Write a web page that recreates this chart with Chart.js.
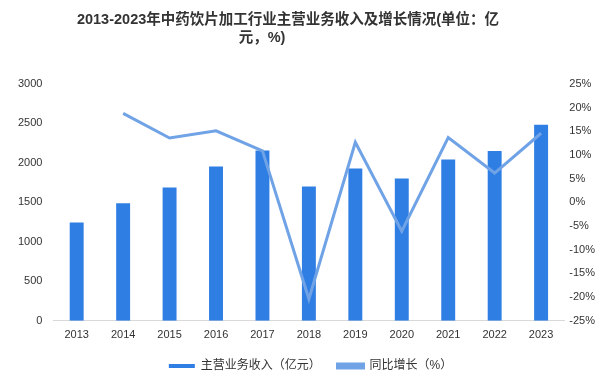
<!DOCTYPE html>
<html>
<head>
<meta charset="utf-8">
<script src="https://cdn.jsdelivr.net/npm/chart.js@4/dist/chart.umd.min.js"></script>
<style>
  html, body { margin: 0; padding: 0; background: #fff; }
  #wrap { width: 601px; height: 387px; }
</style>
</head>
<body>
<div id="wrap"><canvas id="myChart"></canvas></div>
<script>
// years on the x axis
const years = ["2013", "2014", "2015", "2016", "2017", "2018", "2019", "2020", "2021", "2022", "2023"];
// main business revenue (亿元)
const revenue = [1245, 1488, 1690, 1955, 2156, 1700, 1930, 1803, 2043, 2150, 2483];
// year-on-year growth (%)
const growth = [null, 18.8, 13.6, 15.1, 10.9, -20.4, 12.7, -6.1, 13.7, 6.2, 14.6];
// title lines
const titleLines = ["2013-2023年中药饮片加工行业主营业务收入及增长情况(单位：亿", "元，%)"];

const barColor = "#2f7ee3";
const lineColor = "#70a3e6";
const fontFamily = "'Liberation Sans', 'Noto Sans CJK SC', sans-serif";

// title drawn by hand, the original wraps it off-centre
const titlePlugin = {
  id: "titleLines",
  afterLayout(chart) {
    // legend sits a little right of centre in the original
    chart.legend.left += 7;
    chart.legend.right += 7;
  },
  afterDraw(chart) {
    const c = chart.ctx;
    c.save();
    c.fillStyle = "#333";
    c.font = "bold 14.5px " + fontFamily;
    c.textAlign = "center";
    c.textBaseline = "middle";
    c.fillText(titleLines[0], 288, 20);
    c.fillText(titleLines[1], 262, 38);
    c.restore();
  },
};

const ctx = document.getElementById("myChart").getContext("2d");
new Chart(ctx, {
  data: {
    labels: years,
    datasets: [
      {
        type: "line",
        label: "同比增长（%）",
        data: growth,
        yAxisID: "y1",
        borderColor: lineColor,
        backgroundColor: lineColor,
        borderWidth: 3,
        pointRadius: 0,
        tension: 0,
        order: 0,
      },
      {
        type: "bar",
        label: "主营业务收入（亿元）  ", // trailing spaces widen the legend gap
        data: revenue,
        yAxisID: "y",
        backgroundColor: barColor,
        categoryPercentage: 1,
        barPercentage: 0.3,
        order: 1,
      },
    ],
  },
  options: {
    responsive: true,
    maintainAspectRatio: false,
    animation: false,
    layout: { padding: { left: 7, right: 1, top: 84, bottom: 5 } },
    plugins: {
      title: { display: false },
      legend: {
        position: "bottom",
        reverse: true,
        labels: {
          color: "#333",
          boxWidth: 26,
          boxHeight: 4,
          padding: 10,
          font: { family: fontFamily, size: 12 },
        },
      },
      tooltip: { enabled: false },
    },
    scales: {
      x: {
        grid: { display: false, drawTicks: false },
        border: { color: "#d9d9d9" },
        ticks: { color: "#333", font: { family: fontFamily, size: 11 }, padding: 8 },
      },
      y: {
        position: "left",
        min: 0,
        max: 3000,
        grid: { display: false, drawTicks: false },
        border: { display: false },
        ticks: {
          stepSize: 500,
          color: "#333",
          font: { family: fontFamily, size: 11 },
          padding: 11,
          callback: (v) => String(v),
        },
      },
      y1: {
        position: "right",
        min: -25,
        max: 25,
        grid: { display: false, drawTicks: false },
        border: { display: false },
        ticks: {
          stepSize: 5,
          color: "#333",
          font: { family: fontFamily, size: 11 },
          padding: 5,
          callback: (v) => v + "%",
        },
      },
    },
  },
  plugins: [titlePlugin],
});
</script>
</body>
</html>
